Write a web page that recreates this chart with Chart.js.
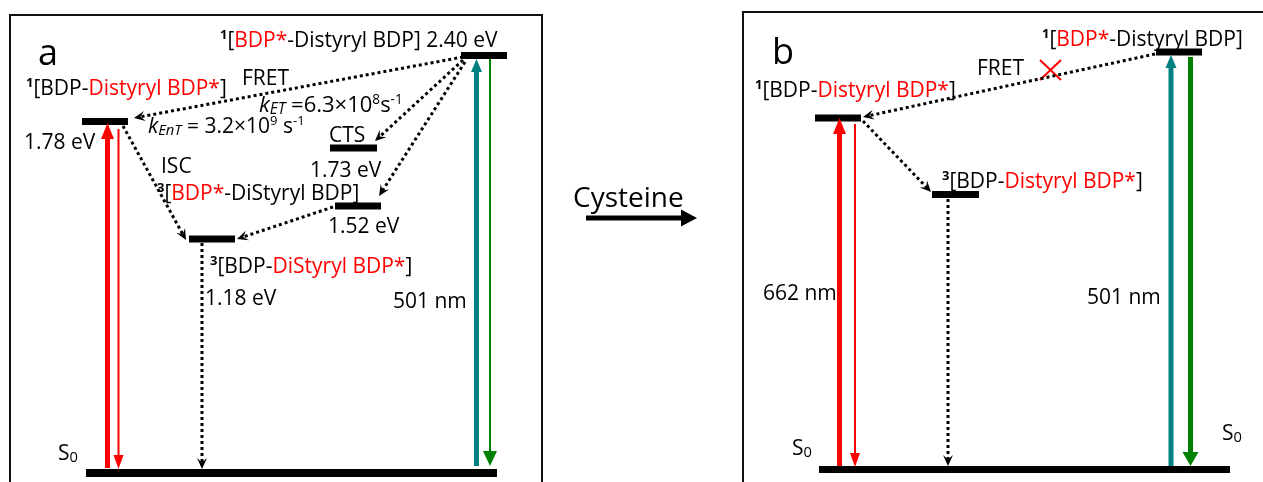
<!DOCTYPE html>
<html>
<head>
<meta charset="utf-8">
<script src="https://cdn.jsdelivr.net/npm/chart.js@4.4.1/dist/chart.umd.min.js"></script>
<style>
  html, body { margin: 0; padding: 0; background: #fff; overflow: hidden; }
  #wrap { width: 1263px; height: 482px; }
</style>
</head>
<body>
<div id="wrap"><canvas id="jablonski" width="1263" height="482"></canvas></div>
<script>
// Energy-level diagram, two panels (before / after cysteine).
// Everything is placed in diagram units: x 0..1263, y 0..482 (top down).

var FONT = '"Open Sans", "Noto Sans", sans-serif';
var RED = '#ff0000';
var TEAL = '#008080';
var GREEN = '#008000';

// panel outlines (bottom edge runs off the page)
var frameA = [[10, 492], [10, 15], [542, 15], [542, 492]];
var frameB = [[743, 492], [743, 12], [1272, 12]];

// energy levels: [xStart, xEnd, y]
var levelsA = [
  [86, 497, 473],    // S0
  [82, 128, 121.5],  // 1[BDP-Distyryl BDP*]  1.78 eV
  [461, 507, 55.5],  // 1[BDP*-Distyryl BDP]  2.40 eV
  [330, 377, 148],   // CTS                   1.73 eV
  [335, 381, 206],   // 3[BDP*-DiStyryl BDP]  1.52 eV
  [189, 235, 239]    // 3[BDP-DiStyryl BDP*]  1.18 eV
];
var levelsB = [
  [819, 1230, 469.5], // S0
  [815, 861, 118],    // 1[BDP-Distyryl BDP*]
  [1156, 1202, 52],   // 1[BDP*-Distyryl BDP]
  [932, 979, 194.5]   // 3[BDP-Distyryl BDP*]
];

// radiative transitions: [x0, y0, xTip, yTip]
var absRed    = [[107.5, 468, 107.5, 123], [839.5, 466, 839.5, 118]];
var emRed     = [[118.5, 129, 118.5, 469], [855, 124, 855, 467]];
var absTeal   = [[476.5, 466, 476.5, 59], [1171, 466, 1171, 55]];
var emGreenA  = [[490, 59, 490, 466]];
var emGreenB  = [[1190.5, 57, 1190.5, 466]];

// non-radiative / energy-transfer steps (dotted): [x0, y0, xTip, yTip]
var dottedA = [
  [463, 57, 134, 118],   // FRET
  [463, 60, 375, 141],   // to CTS
  [465, 62, 379, 196],   // to 3[BDP*-DiStyryl BDP]
  [333, 207, 237, 239],  // triplet energy transfer
  [123, 126, 186, 240],  // ISC
  [202, 243, 202, 469]   // triplet decay
];
var dottedB = [
  [1155, 54, 863, 117],  // FRET (blocked)
  [863, 121, 931, 192],  // ISC
  [948, 199, 948, 466]   // triplet decay
];

// blocked-FRET cross and reaction arrow
var crossB = [[1040, 60, 1061, 80], [1040, 80, 1061, 60]];
var reactionArrow = [[586, 218, 697, 218]];

// text: runs of [text, style]; style tokens: red, sup, sub, it, bold
var labels = [
  { x: 38, y: 65, size: 36, runs: [['a']] },
  { x: 26, y: 95, runs: [['1', 'sup bold'], ['[BDP-'], ['Distyryl BDP*', 'red'], [']']] },
  { x: 242, y: 85, runs: [['FRET']] },
  { x: 259, y: 112, size: 22, runs: [['k', 'it'], ['ET', 'it sub'], [' =6.3\u00d710'], ['8', 'sup'], ['s'], ['-1', 'sup']] },
  { x: 148, y: 133, runs: [['k', 'it'], ['EnT', 'it sub'], [' = 3.2\u00d710'], ['9', 'sup'], [' s'], ['-1', 'sup']] },
  { x: 220, y: 47, runs: [['1', 'sup bold'], ['['], ['BDP*', 'red'], ['-Distyryl BDP] 2.40 eV']] },
  { x: 329, y: 142, runs: [['CTS']] },
  { x: 310, y: 177, runs: [['1.73 eV']] },
  { x: 24, y: 149, runs: [['1.78 eV']] },
  { x: 161, y: 173, runs: [['ISC']] },
  { x: 157, y: 200, runs: [['3', 'sup bold'], ['['], ['BDP*', 'red'], ['-DiStyryl BDP]']] },
  { x: 328, y: 233, runs: [['1.52 eV']] },
  { x: 210, y: 273, runs: [['3', 'sup bold'], ['[BDP-'], ['DiStyryl BDP*', 'red'], [']']] },
  { x: 205, y: 305, runs: [['1.18 eV']] },
  { x: 393, y: 308, runs: [['501 nm']] },
  { x: 58, y: 460, runs: [['S'], ['0', 'sub']] },
  { x: 573, y: 207, size: 28, runs: [['Cysteine']] },
  { x: 772, y: 64, size: 36, runs: [['b']] },
  { x: 755, y: 97, runs: [['1', 'sup bold'], ['[BDP-'], ['Distyryl BDP*', 'red'], [']']] },
  { x: 977, y: 75, runs: [['FRET']] },
  { x: 1042, y: 46, runs: [['1', 'sup bold'], ['['], ['BDP*', 'red'], ['-Distyryl BDP]']] },
  { x: 942, y: 188, runs: [['3', 'sup bold'], ['[BDP-'], ['Distyryl BDP*', 'red'], [']']] },
  { x: 763, y: 300, runs: [['662 nm']] },
  { x: 1087, y: 304, runs: [['501 nm']] },
  { x: 792, y: 455, runs: [['S'], ['0', 'sub']] },
  { x: 1222, y: 440, runs: [['S'], ['0', 'sub']] }
];

var BASE_SIZE = 21;

function pts(list) {
  return list.map(function (p) { return { x: p[0], y: p[1] }; });
}

function polyline(list, color, width) {
  return {
    data: pts(list), showLine: true, borderColor: color, borderWidth: width,
    pointRadius: 0, borderCapStyle: 'butt', borderJoinStyle: 'miter', clip: false
  };
}

// arrow: the shaft stops at the base of its head; the head is drawn by the plugin
function arrow(a, color, width, head) {
  var dx = a[2] - a[0], dy = a[3] - a[1];
  var len = Math.sqrt(dx * dx + dy * dy);
  var back = head.kind === 'barb' ? head.len * 0.6 : head.len * 0.9;
  var ex = a[2] - dx / len * back, ey = a[3] - dy / len * back;
  var ds = polyline([[a[0], a[1]], [ex, ey]], color, width);
  if (head.dotted) { ds.borderDash = [3, 3]; }
  ds.head = { tip: { x: a[2], y: a[3] }, from: { x: a[0], y: a[1] }, len: head.len, half: head.half, kind: head.kind, color: color };
  return ds;
}

var datasets = [];
datasets.push(polyline(frameA, '#111', 2));
datasets.push(polyline(frameB, '#111', 2));
levelsA.forEach(function (l, i) { datasets.push(polyline([[l[0], l[2]], [l[1], l[2]]], '#000', i === 0 ? 8 : 7)); });
levelsB.forEach(function (l, i) { datasets.push(polyline([[l[0], l[2]], [l[1], l[2]]], '#000', 7)); });

absRed.forEach(function (a) { datasets.push(arrow(a, RED, 5, { len: 16, half: 6.5, kind: 'solid' })); });
emRed.forEach(function (a) { datasets.push(arrow(a, RED, 2, { len: 14, half: 5, kind: 'solid' })); });
absTeal.forEach(function (a) { datasets.push(arrow(a, TEAL, 5, { len: 13, half: 5.5, kind: 'solid' })); });
emGreenA.forEach(function (a) { datasets.push(arrow(a, GREEN, 2, { len: 15, half: 7, kind: 'solid' })); });
emGreenB.forEach(function (a) { datasets.push(arrow(a, GREEN, 5, { len: 14, half: 8, kind: 'solid' })); });
dottedA.concat(dottedB).forEach(function (a) {
  datasets.push(arrow(a, '#000', 3, { len: 11, half: 5, kind: 'barb', dotted: true }));
});
crossB.forEach(function (c) { datasets.push(polyline([[c[0], c[1]], [c[2], c[3]]], RED, 2)); });
reactionArrow.forEach(function (a) { datasets.push(arrow(a, '#000', 5, { len: 16, half: 8.5, kind: 'solid' })); });

var arrowHeads = {
  id: 'arrowHeads',
  afterDatasetsDraw: function (chart) {
    var ctx = chart.ctx, xs = chart.scales.x, ys = chart.scales.y;
    chart.data.datasets.forEach(function (ds) {
      var h = ds.head;
      if (!h) return;
      var tx = xs.getPixelForValue(h.tip.x), ty = ys.getPixelForValue(h.tip.y);
      var fx = xs.getPixelForValue(h.from.x), fy = ys.getPixelForValue(h.from.y);
      var ang = Math.atan2(ty - fy, tx - fx);
      ctx.save();
      ctx.translate(tx, ty);
      ctx.rotate(ang);
      ctx.fillStyle = h.color;
      ctx.beginPath();
      ctx.moveTo(0, 0);
      ctx.lineTo(-h.len, -h.half);
      if (h.kind === 'barb') ctx.lineTo(-h.len * 0.6, 0);
      ctx.lineTo(-h.len, h.half);
      ctx.closePath();
      ctx.fill();
      ctx.restore();
    });
  }
};

function drawRuns(ctx, lab) {
  var size = lab.size || BASE_SIZE;
  var x = lab.x;
  lab.runs.forEach(function (r) {
    var st = (r[1] || '').split(' ');
    var has = function (t) { return st.indexOf(t) !== -1; };
    var fs = size, dy = 0;
    if (has('sup')) { fs = size * 0.62; dy = -size * 0.36; }
    if (has('sub')) { fs = size * 0.7; dy = size * 0.1; }
    ctx.font = (has('it') ? 'italic ' : '') + (has('bold') ? 'bold ' : '') + fs.toFixed(1) + 'px ' + FONT;
    ctx.fillStyle = has('red') ? RED : '#000';
    ctx.fillText(r[0], x, lab.y + dy);
    x += ctx.measureText(r[0]).width;
  });
}

var textLayer = {
  id: 'textLayer',
  afterDraw: function (chart) {
    var ctx = chart.ctx;
    ctx.save();
    ctx.textBaseline = 'alphabetic';
    ctx.textAlign = 'left';
    labels.forEach(function (lab) { drawRuns(ctx, lab); });
    ctx.restore();
  }
};

new Chart(document.getElementById('jablonski'), {
  type: 'scatter',
  data: { datasets: datasets },
  options: {
    responsive: false,
    animation: false,
    devicePixelRatio: 1,
    events: [],
    layout: { padding: 0 },
    scales: {
      x: { type: 'linear', min: 0, max: 1263, display: false },
      y: { type: 'linear', min: 0, max: 482, reverse: true, display: false }
    },
    plugins: { legend: { display: false }, tooltip: { enabled: false } }
  },
  plugins: [arrowHeads, textLayer]
});
</script>
</body>
</html>
